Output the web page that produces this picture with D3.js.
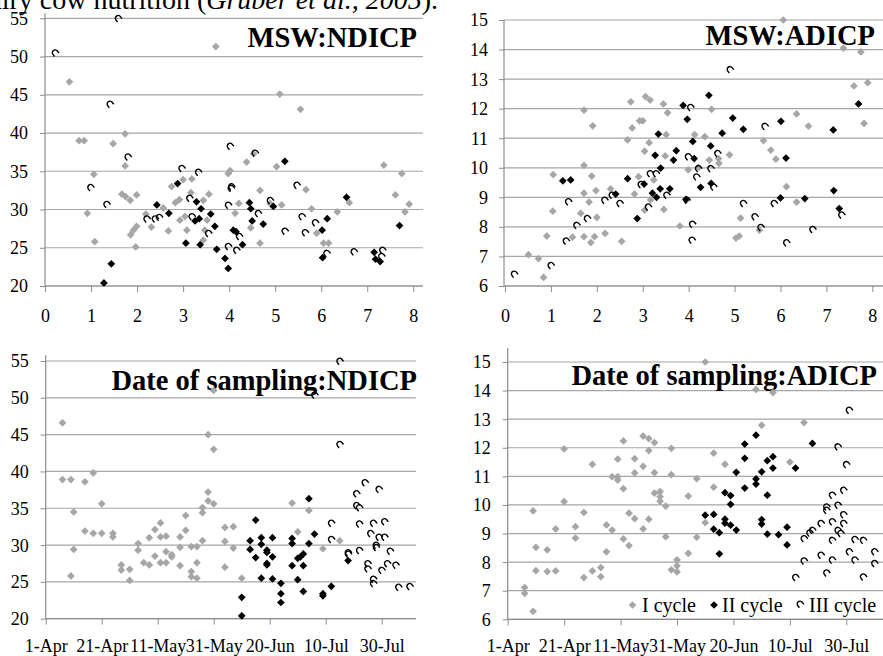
<!DOCTYPE html>
<html><head><meta charset="utf-8">
<script src="https://cdn.jsdelivr.net/npm/d3@7"></script>
<style>body{margin:0;background:#fff}svg{display:block}text{font-family:"Liberation Serif","Times New Roman",serif;fill:#000}</style>
</head><body><svg id="c" width="883" height="656"></svg>
<script>
// ---------- data ----------
const seriesNames = ["I cycle", "II cycle", "III cycle"];
const mswTicks = [0, 1, 2, 3, 4, 5, 6, 7, 8];
const ndicpTicks = [20, 25, 30, 35, 40, 45, 50, 55];
const adicpTicks = [6, 7, 8, 9, 10, 11, 12, 13, 14, 15];
const dateTickDays = [0, 20, 40, 60, 80, 100, 120];
const dateTickLabels = ["1-Apr", "21-Apr", "11-May", "31-May", "20-Jun", "10-Jul", "30-Jul"];

// MSW vs NDICP
const mswNdicpI = [[0.53,46.7],[0.74,39.0],[0.85,39.0],[0.92,29.5],[1.06,34.6],[1.08,25.8],[1.48,38.6],[1.74,39.9],[1.74,35.7],[1.67,32.0],[1.75,31.7],[1.85,31.2],[1.99,31.9],[1.86,26.7],[1.92,27.3],[1.99,27.8],[1.97,25.1],[2.19,29.4],[2.31,27.7],[2.57,30.2],[2.68,27.2],[2.75,33.0],[2.83,30.9],[2.92,31.3],[3.0,33.9],[2.93,28.6],[3.04,29.1],[3.08,27.3],[3.19,34.0],[3.17,32.2],[3.44,31.2],[3.56,32.0],[3.47,27.3],[3.44,26.0],[3.52,28.6],[3.71,51.3],[3.98,34.7],[4.02,35.1],[4.13,29.5],[4.21,30.8],[4.38,36.2],[4.47,27.6],[4.53,37.3],[4.67,32.5],[4.67,25.6],[4.89,30.8],[5.03,35.6],[5.10,45.1],[5.14,30.6],[5.55,43.1],[5.67,32.6],[5.79,30.1],[5.90,26.9],[6.05,25.6],[6.16,25.6],[6.35,29.7],[6.61,30.9],[7.36,35.8],[7.61,31.9],[7.75,34.7],[7.82,29.7],[7.91,30.7]];
const mswNdicpII = [[1.28,20.4],[1.44,22.9],[2.43,30.6],[2.69,29.5],[2.88,33.4],[3.06,25.6],[3.29,31.0],[3.26,28.5],[3.35,28.8],[3.39,30.1],[3.37,25.4],[3.60,29.4],[3.69,27.8],[3.73,24.8],[3.91,23.6],[3.98,22.3],[4.09,27.3],[4.15,27.1],[4.29,25.4],[4.44,30.9],[4.50,28.5],[4.47,30.1],[4.74,28.1],[4.96,30.4],[5.21,36.3],[6.02,27.3],[6.03,23.7],[6.13,28.8],[6.55,31.6],[7.15,24.4],[7.18,23.5],[7.28,23.2],[7.70,27.9]];
const mswNdicpIII = [[0.22,50.5],[1.59,55.0],[1.41,43.8],[1.80,36.9],[0.99,32.9],[1.34,30.7],[2.21,28.8],[2.39,28.8],[2.48,29.0],[2.97,35.4],[3.33,34.9],[3.14,31.5],[3.19,29.1],[3.55,26.9],[4.02,38.3],[3.98,30.6],[4.04,32.8],[4.05,33.0],[3.98,25.2],[4.16,24.7],[4.22,26.5],[4.56,37.4],[4.63,29.5],[4.89,31.2],[5.21,27.2],[5.47,33.2],[5.58,29.1],[5.65,27.0],[5.87,28.3],[6.12,24.3],[6.71,24.5],[7.33,24.7],[7.31,23.9]];

// MSW vs ADICP
const mswAdicpI = [[0.51,7.06],[0.73,6.93],[0.84,6.29],[0.91,7.69],[1.05,9.77],[1.04,8.53],[1.47,7.65],[1.65,8.46],[1.72,11.95],[1.72,10.08],[1.72,9.14],[1.72,7.67],[1.83,8.84],[1.89,9.72],[1.87,7.47],[1.91,11.42],[1.98,9.23],[2.0,8.32],[1.95,7.67],[2.18,7.78],[2.30,9.29],[2.54,7.51],[2.67,10.94],[2.74,12.23],[2.77,11.35],[2.82,9.11],[2.91,9.70],[2.93,11.59],[3.0,11.59],[3.04,10.56],[3.06,12.41],[3.16,12.29],[3.14,10.85],[3.04,8.57],[3.17,8.91],[3.24,9.59],[3.45,12.16],[3.51,11.12],[3.49,10.40],[3.54,11.86],[3.46,8.59],[3.81,8.03],[3.99,9.93],[3.96,8.91],[4.13,11.12],[4.22,10.01],[4.35,11.05],[4.45,10.26],[4.50,11.98],[4.66,10.15],[4.65,10.31],[4.89,10.44],[5.03,7.62],[5.10,7.69],[5.13,8.30],[5.63,10.92],[5.79,10.60],[5.90,10.29],[5.54,7.89],[6.06,15.0],[6.13,9.36],[6.35,8.84],[6.35,11.82],[6.61,11.41],[7.37,14.05],[7.75,13.92],[7.60,12.77],[7.90,12.88],[7.82,11.50]];
const mswAdicpII = [[1.26,9.56],[1.43,9.59],[2.41,9.11],[2.67,9.63],[2.88,8.28],[3.03,9.45],[3.21,9.14],[3.27,10.42],[3.30,9.0],[3.34,11.14],[3.38,9.29],[3.39,9.99],[3.59,9.29],[3.67,10.26],[3.73,10.58],[3.88,12.11],[3.97,11.64],[3.94,8.93],[4.09,10.89],[4.12,10.31],[4.26,9.34],[4.44,12.45],[4.48,10.74],[4.49,9.47],[4.73,11.17],[4.96,11.68],[5.19,11.30],[6.01,11.57],[6.12,10.33],[6.0,8.98],[6.53,8.96],[7.15,11.28],[7.16,9.23],[7.28,8.62],[7.70,12.16]];
const mswAdicpIII = [[0.20,6.41],[1.0,6.70],[1.33,7.53],[1.38,8.86],[1.56,8.06],[1.79,8.29],[2.17,8.91],[2.33,9.08],[2.50,8.80],[2.96,9.44],[3.12,8.68],[3.16,9.81],[3.29,9.81],[3.52,9.08],[3.96,8.91],[3.99,10.38],[4.04,12.05],[4.08,8.10],[4.07,7.56],[4.17,9.70],[4.21,9.98],[4.48,9.98],[4.54,9.36],[4.63,10.49],[4.90,13.33],[5.19,8.80],[5.44,8.35],[5.57,7.99],[5.66,11.41],[5.86,8.80],[6.13,7.47],[6.70,7.92],[7.33,8.41]];

// Date of sampling (days after 1-Apr) vs NDICP
const dateNdicpI = [[6,46.6],[6,38.9],[9,38.9],[10,34.5],[10,29.4],[9,25.8],[14,38.6],[17,39.8],[14,31.9],[17,31.6],[20,35.6],[20,31.6],[24,31.6],[24,31.1],[27,27.3],[27,26.6],[30,26.7],[30,25.2],[33,30.2],[33,29.3],[35,27.6],[37,27.3],[37,31.0],[39,28.5],[39,32.1],[41,33.0],[41,31.1],[41,27.6],[43,31.2],[43,29.1],[43,27.6],[45,28.7],[45,28.4],[48,31.1],[48,29.7],[48,27.2],[50,34.0],[50,32.0],[52,29.8],[52,26.4],[52,25.7],[54,29.8],[54,27.6],[54,25.5],[56,35.1],[56,34.4],[56,30.6],[58,37.2],[58,36.0],[58,45.0],[60,35.6],[60,43.0],[60,51.0],[64,32.4],[64,30.5],[64,27.0],[67,32.5],[67,29.6],[70,25.5],[88,35.7],[90,31.8],[94,34.7],[99,29.5],[105,30.6]];
const dateNdicpII = [[70,22.9],[70,20.4],[73,30.6],[73,29.4],[75,33.4],[75,28.3],[77,31.0],[77,30.1],[77,25.5],[79,29.3],[79,27.5],[79,27.3],[79,29.0],[81,31.0],[81,28.4],[81,25.4],[84,24.8],[84,23.4],[84,22.2],[88,30.9],[88,30.2],[88,27.2],[90,28.2],[90,25.3],[91,28.4],[92,28.8],[92,27.2],[92,23.7],[94,30.2],[94,36.3],[96,31.5],[99,23.4],[99,23.1],[102,24.4],[108,27.9]];
const dateNdicpIII = [[105,55.0],[96,50.4],[105,43.7],[102,33.0],[102,30.8],[108,29.0],[108,28.8],[111,37.0],[111,35.4],[112,35.1],[112,32.9],[112,29.3],[114,38.5],[115,27.5],[115,26.8],[116,31.6],[117,33.0],[117,25.4],[117,24.8],[119,37.6],[118,30.0],[118,29.7],[119,31.1],[120,26.6],[121,33.2],[121,31.1],[122,27.5],[123,29.2],[125,27.3],[126,24.3],[130,24.4]];

// Date of sampling vs ADICP
const dateAdicpI = [[6,7.11],[6,6.91],[9,6.28],[9,9.79],[10,8.52],[10,7.70],[14,8.43],[14,7.67],[17,9.16],[17,7.69],[20,11.96],[20,10.12],[24,9.24],[24,8.84],[27,9.74],[27,7.46],[30,11.42],[30,7.69],[33,7.81],[33,7.49],[35,9.30],[35,8.36],[37,9.12],[37,10.99],[39,10.99],[39,11.60],[39,10.87],[41,10.57],[41,8.81],[41,12.24],[43,9.71],[43,8.58],[45,11.62],[45,11.12],[45,9.52],[48,11.35],[48,9.16],[48,12.41],[50,11.90],[50,9.50],[50,12.32],[52,12.18],[52,11.13],[52,10.41],[54,10.47],[54,10.29],[54,10.13],[56,9.96],[56,8.89],[58,11.98],[58,11.06],[58,7.73],[60,8.08],[60,7.87],[60,7.66],[64,10.31],[64,8.31],[67,10.92],[67,8.87],[70,15.0],[70,9.38],[73,11.81],[73,10.62],[77,11.42],[88,14.04],[90,12.79],[94,13.93],[100,11.50],[105,12.88]];
const dateAdicpII = [[70,9.64],[73,9.67],[73,9.15],[75,9.03],[75,8.29],[77,10.43],[77,9.50],[77,9.36],[79,10.33],[79,10.02],[79,9.29],[81,11.14],[81,9.12],[84,12.13],[84,11.63],[84,10.59],[88,12.44],[88,10.91],[88,10.73],[90,11.16],[90,9.49],[90,9.33],[92,11.55],[92,10.34],[92,8.98],[94,11.69],[94,11.29],[96,8.96],[99,9.22],[99,8.60],[102,11.29],[108,12.15]];
const dateAdicpIII = [[121,13.32],[117,12.04],[120,11.42],[102,7.47],[105,8.05],[105,8.83],[107,9.03],[108,9.12],[111,9.36],[111,8.25],[113,7.63],[113,9.82],[113,9.94],[115,9.42],[115,10.35],[115,8.77],[115,8.08],[117,9.12],[117,10.0],[119,10.52],[119,9.67],[119,9.36],[118,9.01],[121,8.37],[123,8.80],[123,8.08],[126,8.77],[126,7.49],[130,8.37],[130,7.96]];

// ---------- drawing ----------
const svg = d3.select("#c");
const season0 = new Date(2005, 3, 1);
const toDate = d => d3.timeDay.offset(season0, d);
const GRID = "#a6a6a6", AXIS = "#8c8c8c";
const colors = ["#a6a6a6", "#000000", "none"];
const diamondPath = d3.symbol().type(d3.symbolSquare).size(30)();
const arcPath = "M-2.8,2.6L-2.8,0A2.8,2.8 0 0 1 2.8,0L2.8,2.6";

function marker(sel, i) {
  if (i < 2) {
    sel.attr("d", diamondPath).attr("fill", colors[i]);
  } else {
    sel.attr("d", arcPath).attr("fill", "none").attr("stroke", "#000").attr("stroke-width", 1.4);
  }
}

function panel(cfg) {
  const g = svg.append("g");
  const x = cfg.x, y = cfg.y;
  const yBottom = y(cfg.yTicks[0]);
  g.selectAll("line.grid").data(cfg.yTicks).join("line")
    .attr("x1", cfg.left).attr("x2", cfg.right)
    .attr("y1", d => y(d)).attr("y2", d => y(d))
    .attr("stroke", GRID).attr("stroke-width", 1.2);
  const ya = g.append("g").attr("transform", `translate(${cfg.left},0)`)
    .call(d3.axisLeft(y).tickValues(cfg.yTicks).tickSize(5).tickPadding(cfg.yPad).tickSizeOuter(0));
  ya.select(".domain").remove();
  ya.selectAll("line").attr("stroke", AXIS);
  ya.selectAll("text").attr("font-size", 18).attr("font-family", "Liberation Serif").attr("dy", "0.33em");
  g.append("line").attr("x1", cfg.left).attr("x2", cfg.left)
    .attr("y1", y(cfg.yTicks[cfg.yTicks.length - 1]) - cfg.ext).attr("y2", yBottom)
    .attr("stroke", AXIS).attr("stroke-width", 1.2);
  const xa = g.append("g").attr("transform", `translate(0,${yBottom})`)
    .call(d3.axisBottom(x).tickValues(cfg.xTicks).tickSize(6).tickSizeOuter(0)
      .tickFormat((d, i) => cfg.xLabels[i]));
  xa.select(".domain").remove();
  xa.selectAll("line").attr("stroke", AXIS);
  xa.selectAll("text").attr("font-size", cfg.xFont).attr("font-family", "Liberation Serif")
    .attr("y", cfg.xLabelBase).attr("dy", null);
  g.append("line").attr("x1", cfg.left).attr("x2", cfg.right)
    .attr("y1", yBottom).attr("y2", yBottom).attr("stroke", AXIS).attr("stroke-width", 1.2);
  g.append("text").attr("x", cfg.titleX).attr("y", cfg.titleY).attr("text-anchor", "end")
    .attr("font-size", 28.5).attr("font-weight", "bold").text(cfg.title);
  cfg.series.forEach((s, i) => {
    g.append("g").selectAll("path").data(s).join("path")
      .attr("transform", d => `translate(${x(cfg.xv(d[0]))},${y(d[1])}) rotate(${i < 2 ? 45 : -38})`)
      .call(marker, i);
  });
  return g;
}

// top cut-off caption (continuation of the text above the figure)
svg.append("text").attr("x", 438).attr("y", 8.5).attr("text-anchor", "end").attr("font-size", 28)
  .html('dairy cow nutrition (<tspan font-style="italic">Gruber et al., 2005</tspan>).');

panel({
  x: d3.scaleLinear().domain([0, 8]).range([45, 413.3]),
  y: d3.scaleLinear().domain([20, 55]).range([286, 18.3]),
  xv: d => d, xTicks: mswTicks, xLabels: mswTicks.map(String), xFont: 18, xLabelBase: 35.5,
  yTicks: ndicpTicks, yPad: 12, left: 45, right: 423, ext: 5,
  title: "MSW:NDICP", titleX: 417, titleY: 46.5,
  series: [mswNdicpI, mswNdicpII, mswNdicpIII]
});
panel({
  x: d3.scaleLinear().domain([0, 8]).range([505, 872.3]),
  y: d3.scaleLinear().domain([6, 15]).range([286, 20]),
  xv: d => d, xTicks: mswTicks, xLabels: mswTicks.map(String), xFont: 18, xLabelBase: 35.5,
  yTicks: adicpTicks, yPad: 11, left: 504, right: 883, ext: 0,
  title: "MSW:ADICP", titleX: 875, titleY: 45,
  series: [mswAdicpI, mswAdicpII, mswAdicpIII]
});
panel({
  x: d3.scaleTime().domain([toDate(0), toDate(120)]).range([45.7, 381.7]),
  y: d3.scaleLinear().domain([20, 55]).range([618.7, 361]),
  xv: toDate, xTicks: dateTickDays.map(toDate), xLabels: dateTickLabels, xFont: 18, xLabelBase: 33,
  yTicks: ndicpTicks, yPad: 12, left: 45.7, right: 416, ext: 6,
  title: "Date of sampling:NDICP", titleX: 417, titleY: 390,
  series: [dateNdicpI, dateNdicpII, dateNdicpIII]
});
panel({
  x: d3.scaleTime().domain([toDate(0), toDate(120)]).range([507.7, 846.3]),
  y: d3.scaleLinear().domain([6, 15]).range([619.3, 362]),
  xv: toDate, xTicks: dateTickDays.map(toDate), xLabels: dateTickLabels, xFont: 18, xLabelBase: 33,
  yTicks: adicpTicks, yPad: 12, left: 507.7, right: 883, ext: 14,
  title: "Date of sampling:ADICP", titleX: 877, titleY: 385,
  series: [dateAdicpI, dateAdicpII, dateAdicpIII]
});

// legend
const legX = [632.5, 714, 800], legTextX = [642, 722, 809];
const leg = svg.append("g");
seriesNames.forEach((name, i) => {
  leg.append("path").attr("transform", `translate(${legX[i]},${i < 2 ? 605 : 604}) rotate(${i < 2 ? 45 : -38})`).call(marker, i);
  leg.append("text").attr("x", legTextX[i]).attr("y", 612).attr("font-size", 20).text(name);
});
</script>
</body></html>
